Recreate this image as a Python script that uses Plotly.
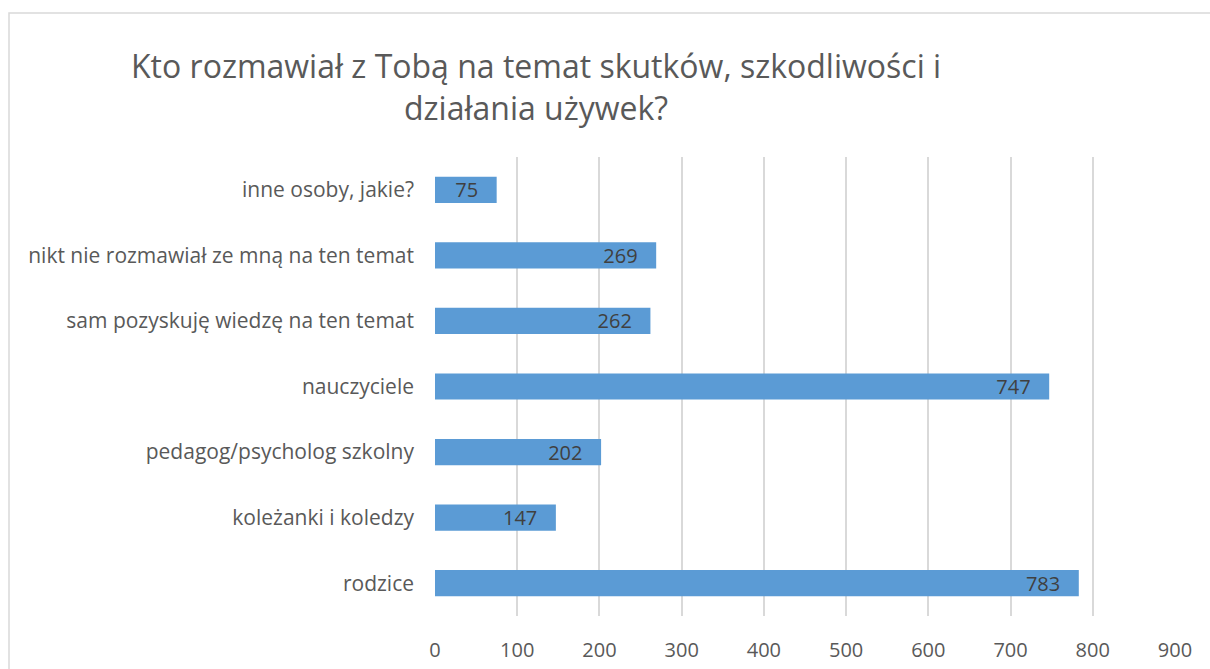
import plotly.graph_objects as go

categories = ["rodzice", "koleżanki i koledzy", "pedagog/psycholog szkolny", "nauczyciele",
              "sam pozyskuję wiedzę na ten temat", "nikt nie rozmawiał ze mną na ten temat",
              "inne osoby, jakie?"]
values = [783, 147, 202, 747, 262, 269, 75]
tick_vals = [0, 100, 200, 300, 400, 500, 600, 700, 800, 900]
title_text = "Kto rozmawiał z Tobą na temat skutków, szkodliwości i<br>działania używek?"

FONT = "Open Sans"

fig = go.Figure(go.Bar(
    y=categories, x=values, orientation="h",
    marker=dict(color="#5B9BD5", line=dict(width=0)),
    width=0.4,
    text=[f"{v}\u00a0\u00a0\u00a0" for v in values], textposition="inside", insidetextanchor="end",
    textangle=0, constraintext="none",
    textfont=dict(family=FONT, size=20, color="#404040"),
    cliponaxis=False,
))

W, H = 1210, 669
L, R, T, B = 435, 35, 157, 53
pw, ph = W - L - R, H - T - B

def px(x):
    return (x - L) / pw

def py(y):
    return (H - B - y) / ph

fig.update_layout(
    width=W, height=H,
    margin=dict(l=L, r=R, t=T, b=B),
    paper_bgcolor="white", plot_bgcolor="white",
    showlegend=False,
    font=dict(family=FONT, color="#595959"),
    xaxis=dict(range=[0, 900], tickvals=tick_vals, showgrid=True, gridcolor="#D9D9D9",
               gridwidth=1.5, zeroline=False, showline=False, automargin=False,
               tickfont=dict(size=20, color="#595959"), ticks="", ticklabelstandoff=20),
    yaxis=dict(categoryorder="array", categoryarray=categories, showgrid=False,
               showline=False, ticks="", tickfont=dict(size=21, color="#595959"),
               ticklabelstandoff=20, automargin=False),
    shapes=[dict(type="rect", xref="paper", yref="paper",
                 x0=px(9), x1=px(1220), y0=py(690), y1=py(13),
                 line=dict(color="#D9D9D9", width=1.5), fillcolor="rgba(0,0,0,0)", layer="below")],
    annotations=[dict(text=title_text, xref="paper", yref="paper", x=px(536), y=py(87),
                      xanchor="center", yanchor="middle", showarrow=False, align="center",
                      font=dict(family=FONT, size=32, color="#595959"))],
)

fig.write_html("out.html", config={"displayModeBar": False},
               post_script="document.body.style.margin='0';document.body.style.overflow='hidden';")
